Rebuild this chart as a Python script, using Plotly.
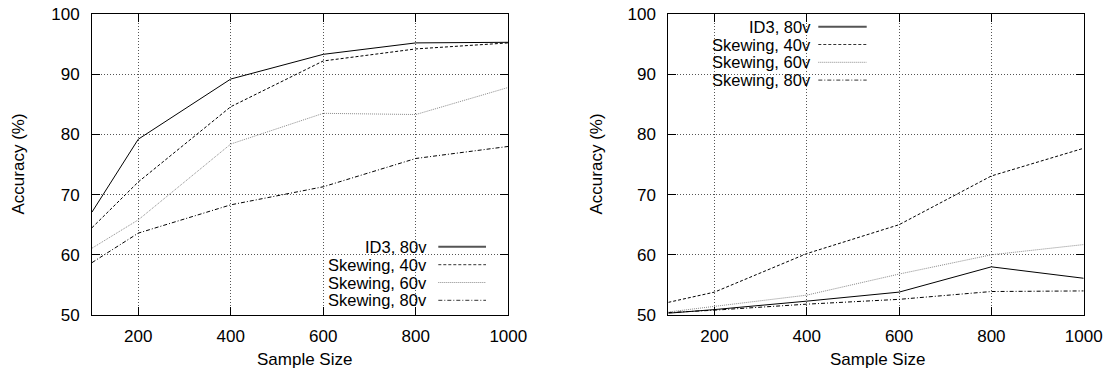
import plotly.graph_objects as go

# Sample sizes shared by both panels
sample_sizes = [100, 200, 400, 600, 800, 1000]

# Left panel accuracies (%)
left_id3_80v = [67.1, 79.2, 89.2, 93.3, 95.2, 95.3]
left_skew_40v = [64.5, 72.1, 84.6, 92.2, 94.2, 95.2]
left_skew_60v = [61.1, 65.8, 78.4, 83.5, 83.3, 87.8]
left_skew_80v = [58.7, 63.6, 68.3, 71.3, 76.0, 78.0]

# Right panel accuracies (%)
right_id3_80v = [50.3, 50.9, 52.3, 53.8, 58.0, 56.1]
right_skew_40v = [52.1, 53.8, 60.2, 65.0, 73.1, 77.7]
right_skew_60v = [50.5, 51.4, 53.3, 56.8, 60.0, 61.7]
right_skew_80v = [50.4, 50.8, 51.8, 52.6, 53.9, 54.0]

series_names = ["ID3, 80v", "Skewing, 40v", "Skewing, 60v", "Skewing, 80v"]
x_ticks = [200, 400, 600, 800, 1000]
y_ticks = [50, 60, 70, 80, 90, 100]

W, H = 1109, 371
FONT = "Liberation Sans, Arial, Helvetica, sans-serif"


def px(x):
    return x / W


def py(y):
    return 1 - y / H


styles = [
    dict(color="#000000", width=1, dash="solid"),
    dict(color="#000000", width=1, dash="3px,2px"),
    dict(color="#8a8a8a", width=1, dash="1px,1px"),
    dict(color="#000000", width=1, dash="4px,2px,1px,2px"),
]
legend_styles = [
    dict(color="#555555", width=2, dash="solid"),
    dict(color="#333333", width=1, dash="3px,2px"),
    dict(color="#8a8a8a", width=1, dash="1px,1px"),
    dict(color="#333333", width=1, dash="4px,2px,1px,2px"),
]

fig = go.Figure()

panels = [
    ("x", "y", [left_id3_80v, left_skew_40v, left_skew_60v, left_skew_80v]),
    ("x2", "y2", [right_id3_80v, right_skew_40v, right_skew_60v, right_skew_80v]),
]
for xa, ya, series in panels:
    for name, vals, st in zip(series_names, series, styles):
        fig.add_trace(go.Scatter(
            x=sample_sizes, y=vals, mode="lines", name=name,
            line=st, xaxis=xa, yaxis=ya, showlegend=False,
            hoverinfo="x+y+name",
        ))

axis_common = dict(
    showline=True, linecolor="#000000", linewidth=1, mirror="ticks",
    ticks="inside", ticklen=8, tickwidth=1, tickcolor="#000000",
    showgrid=True, gridcolor="#555555", gridwidth=1, griddash="1px,2px",
    zeroline=False, automargin=False,
    tickfont=dict(family=FONT, size=17, color="#000000"),
)

left_dom = [px(92), px(508.3)]
right_dom = [px(668.3), px(1083.7)]
y_dom = [py(315), py(14)]

fig.update_layout(
    width=W, height=H,
    margin=dict(l=0, r=0, t=0, b=0),
    paper_bgcolor="white", plot_bgcolor="white",
    showlegend=False,
    xaxis=dict(domain=left_dom, range=[100, 1000], tickvals=x_ticks,
               anchor="y", ticklabelstandoff=6, **axis_common),
    yaxis=dict(domain=y_dom, range=[50, 100], tickvals=y_ticks,
               anchor="x", ticklabelstandoff=8, **axis_common),
    xaxis2=dict(domain=right_dom, range=[100, 1000], tickvals=x_ticks,
                anchor="y2", ticklabelstandoff=6, **axis_common),
    yaxis2=dict(domain=y_dom, range=[50, 100], tickvals=y_ticks,
                anchor="x2", ticklabelstandoff=8, **axis_common),
)

shapes = []
annotations = []

# Key areas: blank out the grid behind each key
for (x0, x1, y0, y1) in [(300, 498, 238, 315), (677, 877, 14, 90)]:
    shapes.append(dict(
        type="rect", xref="paper", yref="paper",
        x0=px(x0), x1=px(x1), y0=py(y1), y1=py(y0),
        fillcolor="white", line=dict(width=0), layer="between",
    ))

# Keys: right-aligned label followed by a line sample
keys = [
    (428.3, 438.3, 486.0, [246.7, 264.7, 282.5, 300.3]),
    (811.7, 818.3, 866.7, [26.7, 44.5, 62.3, 80.1]),
]
for text_right, s0, s1, rows in keys:
    for name, row, st in zip(series_names, rows, legend_styles):
        annotations.append(dict(
            text=name, xref="paper", yref="paper",
            x=px(text_right), y=py(row), xanchor="right", yanchor="middle",
            showarrow=False, borderpad=0,
            font=dict(family=FONT, size=16.5, color="#000000"),
        ))
        shapes.append(dict(
            type="line", xref="paper", yref="paper",
            x0=px(s0), x1=px(s1), y0=py(row), y1=py(row),
            line=st, layer="above",
        ))

# Axis titles
for cx in (304, 877):
    annotations.append(dict(
        text="Sample Size", xref="paper", yref="paper",
        x=px(cx), y=py(359), xanchor="center", yanchor="middle",
        showarrow=False, font=dict(family=FONT, size=17, color="#000000"),
    ))
for cx in (18, 596):
    annotations.append(dict(
        text="Accuracy (%)", xref="paper", yref="paper",
        x=px(cx), y=py(164.5), xanchor="center", yanchor="middle",
        textangle=-90, showarrow=False,
        font=dict(family=FONT, size=17, color="#000000"),
    ))

fig.update_layout(shapes=shapes, annotations=annotations)

fig.write_html("out.html")
